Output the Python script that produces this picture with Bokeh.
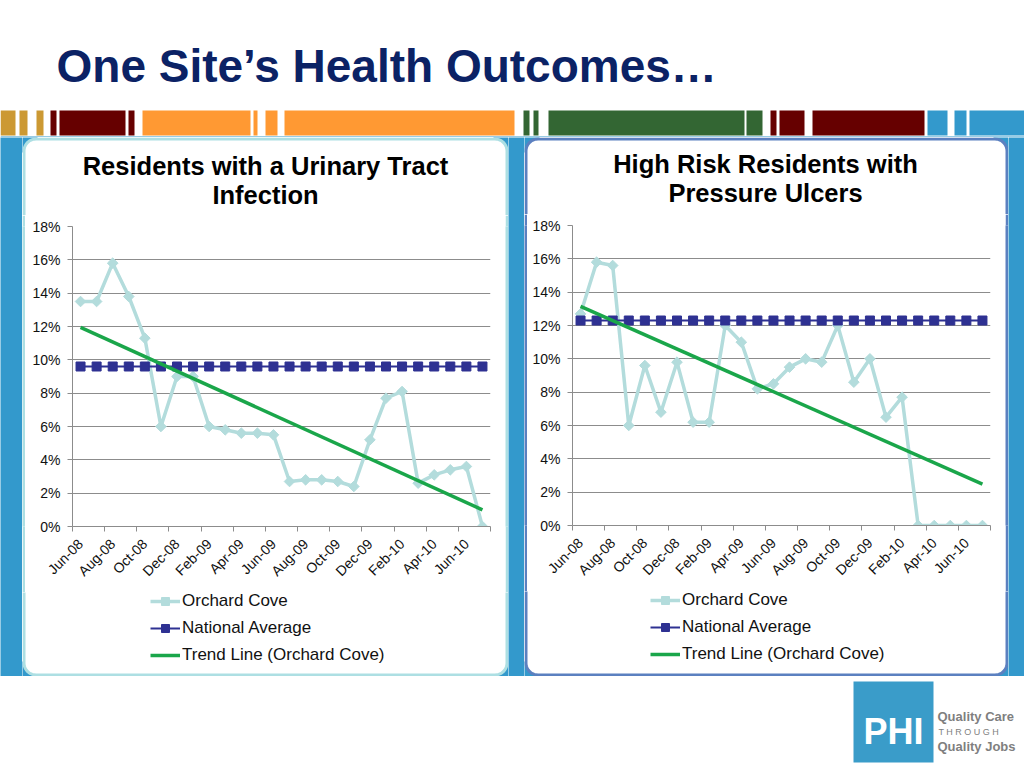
import math
from bokeh.plotting import figure
from bokeh.layouts import column, row
from bokeh.models import (Range1d, FixedTicker, PrintfTickFormatter, Legend, LegendItem, Label)
from bokeh.embed import file_html
from bokeh.resources import INLINE

# ---------------- data ----------------
months = ["Jun-08", "Jul-08", "Aug-08", "Sep-08", "Oct-08", "Nov-08", "Dec-08", "Jan-09",
          "Feb-09", "Mar-09", "Apr-09", "May-09", "Jun-09", "Jul-09", "Aug-09", "Sep-09",
          "Oct-09", "Nov-09", "Dec-09", "Jan-10", "Feb-10", "Mar-10", "Apr-10", "May-10",
          "Jun-10", "Jul-10"]

uti_orchard = [13.5, 13.5, 15.8, 13.8, 11.3, 6.0, 9.0, 9.0, 6.0, 5.8, 5.6, 5.6, 5.5,
               2.7, 2.8, 2.8, 2.7, 2.4, 5.2, 7.7, 8.1, 2.6, 3.1, 3.4, 3.6, 0.0]
uti_national = [9.6, 9.6, 9.6, 9.6, 9.6, 9.6, 9.6, 9.6, 9.6, 9.6, 9.6, 9.6, 9.6,
                9.6, 9.6, 9.6, 9.6, 9.6, 9.6, 9.6, 9.6, 9.6, 9.6, 9.6, 9.6, 9.6]
uti_trend = [11.95, 1.0]          # trend line value at first and last month

pu_orchard = [12.7, 15.8, 15.6, 6.0, 9.6, 6.8, 9.8, 6.2, 6.2, 12.0, 11.0, 8.2, 8.5,
              9.5, 10.0, 9.8, 12.0, 8.6, 10.0, 6.5, 7.7, 0.0, 0.0, 0.0, 0.0, 0.0]
pu_national = [12.3, 12.3, 12.3, 12.3, 12.3, 12.3, 12.3, 12.3, 12.3, 12.3, 12.3, 12.3, 12.3,
               12.3, 12.3, 12.3, 12.3, 12.3, 12.3, 12.3, 12.3, 12.3, 12.3, 12.3, 12.3, 12.3]
pu_trend = [13.15, 2.48]

trend_months = [months[0], months[-1]]
y_ticks = [0, 2, 4, 6, 8, 10, 12, 14, 16, 18]

series_names = ["Orchard Cove", "National Average", "Trend Line (Orchard Cove)"]

# ---------------- styles ----------------
FONT = "Liberation Sans"
BLUE_BG = "#3399cc"
C_ORCH = "#b3dcdc"
C_NAT = "#2e3192"
C_TREND = "#1aa64a"
GRID = "#8c8c8c"
TXT = "#111111"
NAN = float("nan")

stripe = [(0, 15, "#cc9933"), (19, 27, "#cc9933"), (36, 43, "#cc9933"),
          (50, 56, "#660000"), (59, 125, "#660000"), (128, 134, "#660000"),
          (142, 250, "#ff9933"), (253, 257, "#ff9933"), (265, 277, "#ff9933"), (284, 514, "#ff9933"),
          (523, 529, "#336633"), (533, 538, "#336633"), (548, 744, "#336633"), (746, 762, "#336633"),
          (770, 776, "#660000"), (779, 804, "#660000"), (812, 924, "#660000"),
          (927, 947, "#3399cc"), (954, 966, "#3399cc"), (969, 1024, "#3399cc")]


def base_fig(width, height, xr, yr, color="white"):
    f = figure(width=width, height=height, x_range=xr, y_range=yr,
               toolbar_location=None, output_backend="svg",
               x_axis_location=None, y_axis_location=None, min_border=0,
               background_fill_color=color, border_fill_color=color,
               outline_line_color=None)
    f.grid.visible = False
    return f


def rounded_path(x0, x1, y_open, y_edge, r, top):
    """open path of a panel edge with two rounded corners (y grows downward)"""
    n = 10
    xs, ys = [x0], [y_open]
    if top:
        cy = y_edge + r
        arcs = [(x0 + r, math.pi, 1.5 * math.pi), (x1 - r, 1.5 * math.pi, 2 * math.pi)]
    else:
        cy = y_edge - r
        arcs = [(x0 + r, math.pi, 0.5 * math.pi), (x1 - r, 0.5 * math.pi, 0.0)]
    for cx, a0, a1 in arcs:
        for k in range(n + 1):
            t = a0 + (a1 - a0) * k / n
            xs.append(cx + r * math.cos(t))
            ys.append(cy + r * math.sin(t))
    xs.append(x1)
    ys.append(y_open)
    return xs, ys


def panel_cap(f, px0, px1, y_open, y_edge, top, border_color):
    r = 12
    c = r + 3
    ya, yb = (y_edge - 2, y_edge + c) if top else (y_edge - c, y_edge + 2)
    f.quad(left=[px0 - 2, px1 - c], right=[px0 + c, px1 + 2], top=[ya, ya], bottom=[yb, yb],
           fill_color=BLUE_BG, line_color=None)
    inset = 1.5
    ye = y_edge + inset if top else y_edge - inset
    xs, ys = rounded_path(px0 + inset, px1 - inset, y_open, ye, r, top)
    f.patch(xs, ys, fill_color="white", line_color=None)
    f.line(xs, ys, line_color=border_color, line_width=3)


def txt(p, x, y, text, size, bold=False, color=TXT, align="left", font=FONT):
    p.add_layout(Label(x=x, y=y, text=text, text_font=font, text_font_size=size,
                       text_font_style="bold" if bold else "normal", text_color=color,
                       text_align=align, text_baseline="middle"))


# ---------------- header ----------------
top = base_fig(1024, 137, Range1d(0, 1024), Range1d(137, 0))
top.quad(left=[s[0] for s in stripe], right=[s[1] for s in stripe],
         top=[110] * len(stripe), bottom=[135] * len(stripe),
         fill_color=[s[2] for s in stripe], line_color=None)
top.quad(left=[0], right=[1024], top=[136], bottom=[138], fill_color=BLUE_BG, line_color=None)
txt(top, 56, 65, "One Site\u2019s Health Outcomes\u2026", "46px", bold=True, color="#0b2265")


# ---------------- panels ----------------
def make_panel(px0, px1, y_title_end, y_chart_end, title_lines, orchard, national, trend,
               border_color, mbl, legend_xy):
    y0, y1 = 137, 676
    W = px1 - px0
    # title part
    tf = base_fig(W, y_title_end - y0, Range1d(px0, px1), Range1d(y_title_end, y0), "white")
    panel_cap(tf, px0, px1, y_title_end + 2, y0, True, border_color)
    for (tx, ty, t) in title_lines:
        txt(tf, tx, ty, t, "25.5px", bold=True, color="black", align="center")

    # chart part
    CW = W - 6
    CH = y_chart_end - y_title_end
    frame_top = 11
    p = figure(width=CW, height=CH, x_range=Range1d(-0.5, len(months) - 0.5),
               y_range=Range1d(0, 18), toolbar_location=None, output_backend="svg",
               min_border_left=mbl, min_border_right=15, min_border_top=frame_top,
               min_border_bottom=CH - frame_top - 300, background_fill_color="white",
               border_fill_color="white", outline_line_color=None)
    x = list(range(len(months)))
    label_pos = [i for i in x if i % 2 == 0]
    bounds = [i - 0.5 for i in range(0, len(months) + 1, 2)]
    p.xaxis.ticker = FixedTicker(ticks=label_pos, minor_ticks=bounds)
    p.xaxis.major_label_overrides = {i: months[i] for i in label_pos}
    p.xaxis.major_label_orientation = math.pi / 4
    p.xaxis.major_tick_out = 0
    p.xaxis.major_tick_in = 0
    p.xaxis.minor_tick_out = 5
    p.xaxis.minor_tick_in = 0
    p.xaxis.minor_tick_line_color = GRID
    p.xaxis.axis_line_color = GRID
    p.xaxis.major_label_text_font = FONT
    p.xaxis.major_label_text_font_size = "14px"
    p.xaxis.major_label_text_color = TXT
    p.xaxis.major_label_standoff = 10
    p.xgrid.visible = False

    p.yaxis.ticker = FixedTicker(ticks=y_ticks)
    p.yaxis.formatter = PrintfTickFormatter(format="%d%%")
    p.yaxis.minor_tick_line_color = None
    p.yaxis.major_tick_out = 5
    p.yaxis.major_tick_in = 0
    p.yaxis.major_tick_line_color = GRID
    p.yaxis.axis_line_color = GRID
    p.yaxis.major_label_text_font = FONT
    p.yaxis.major_label_text_font_size = "14px"
    p.yaxis.major_label_text_color = TXT
    p.yaxis.major_label_standoff = 7
    p.ygrid.grid_line_color = GRID
    p.ygrid.grid_line_width = 1

    p.line(x, orchard, line_color=C_ORCH, line_width=3.5)
    p.scatter(x, orchard, marker="square", angle=math.pi / 4, size=7.5,
              fill_color=C_ORCH, line_color=C_ORCH)
    p.line(x, national, line_color=C_NAT, line_width=2)
    p.scatter(x, national, marker="square", size=9, fill_color=C_NAT, line_color=C_NAT)
    tx = [months.index(m) for m in trend_months]
    p.line(tx, trend, line_color=C_TREND, line_width=3.5)

    s_l = base_fig(3, CH, Range1d(0, 1), Range1d(0, 1), border_color)
    s_r = base_fig(3, CH, Range1d(0, 1), Range1d(0, 1), border_color)

    # legend part (proxy renderers without visible points)
    LH = y1 - y_chart_end
    lf = base_fig(W, LH, Range1d(px0, px1), Range1d(y1, y_chart_end), "white")
    panel_cap(lf, px0, px1, y_chart_end - 2, y1, False, border_color)
    k1 = lf.line(x=[NAN], y=[NAN], line_color=C_ORCH, line_width=3.5)
    k2 = lf.scatter(x=[NAN], y=[NAN], marker="square", angle=math.pi / 4,
                    fill_color=C_ORCH, line_color=C_ORCH)
    k3 = lf.line(x=[NAN], y=[NAN], line_color=C_NAT, line_width=2)
    k4 = lf.scatter(x=[NAN], y=[NAN], marker="square", fill_color=C_NAT, line_color=C_NAT)
    k5 = lf.line(x=[NAN], y=[NAN], line_color=C_TREND, line_width=3.5)
    legend = Legend(items=[LegendItem(label=series_names[0], renderers=[k1, k2]),
                           LegendItem(label=series_names[1], renderers=[k3, k4]),
                           LegendItem(label=series_names[2], renderers=[k5])],
                    location=legend_xy, orientation="vertical",
                    border_line_color=None, background_fill_alpha=0,
                    padding=0, margin=0, spacing=7, label_height=20, glyph_height=20,
                    glyph_width=30, label_standoff=2, label_text_font=FONT,
                    label_text_font_size="17px", label_text_color=TXT)
    lf.add_layout(legend)

    return column(tf, row(s_l, p, s_r), lf)


left_panel = make_panel(22, 508, 215, 592,
                        [(265, 165, "Residents with a Urinary Tract"), (265, 194, "Infection")],
                        uti_orchard, uti_national, uti_trend, "#addfe3", 47, (128, 11))
right_panel = make_panel(524, 1008, 214, 591,
                         [(765, 163, "High Risk Residents with"), (765, 192, "Pressure Ulcers")],
                         pu_orchard, pu_national, pu_trend, "#5b80c0", 45, (126, 12))

sp1 = base_fig(22, 539, Range1d(0, 1), Range1d(0, 1), BLUE_BG)
gap = base_fig(16, 539, Range1d(0, 1), Range1d(0, 1), BLUE_BG)
sp2 = base_fig(16, 539, Range1d(0, 1), Range1d(0, 1), BLUE_BG)

# ---------------- footer / logo ----------------
bottom = base_fig(1024, 90, Range1d(0, 1024), Range1d(766, 676))
bottom.quad(left=[853], right=[933], top=[681], bottom=[762], fill_color="#3a9cc9", line_color=None)
txt(bottom, 893, 731, "PHI", "36px", bold=True, color="white", align="center")
txt(bottom, 937, 716, "Quality Care", "13px", bold=True, color="#7f7f7f")
txt(bottom, 938, 731, "T H R O U G H", "9px", color="#7f7f7f")
txt(bottom, 937, 746, "Quality Jobs", "13px", bold=True, color="#7f7f7f")

layout = column(top, row(sp1, left_panel, gap, right_panel, sp2), bottom)

open("out.html", "w").write(file_html(layout, INLINE))
